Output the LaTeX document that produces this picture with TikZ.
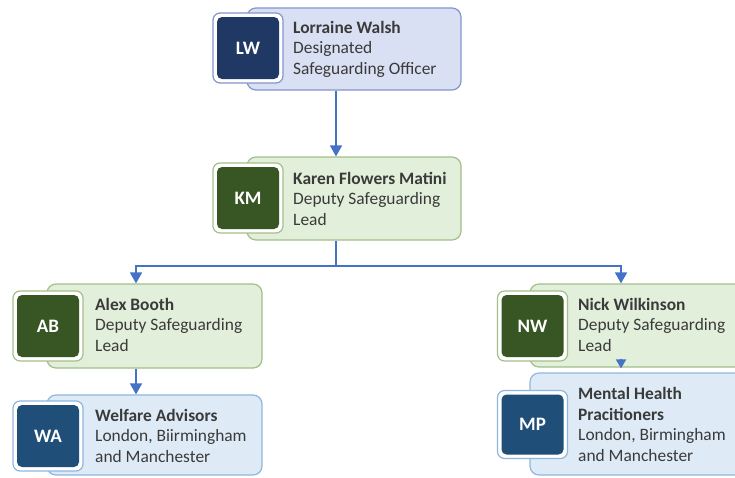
\documentclass[tikz,border=0pt]{standalone}
\usepackage{fontspec}
\setmainfont{Carlito}
\usetikzlibrary{arrows.meta}
\definecolor{lwF}{HTML}{DAE0F3}
\definecolor{lwB}{HTML}{8496CB}
\definecolor{lwD}{HTML}{1F3864}
\definecolor{gF}{HTML}{E2EFDA}
\definecolor{gB}{HTML}{A3BF8A}
\definecolor{gD}{HTML}{375623}
\definecolor{bF}{HTML}{DEEBF7}
\definecolor{bB}{HTML}{8FB7DE}
\definecolor{bD}{HTML}{1F4E79}
\definecolor{arr}{HTML}{4472C4}
\definecolor{txtc}{HTML}{3A3A3A}
\tikzset{
  card/.style={draw, rounded corners=9pt, line width=1.2pt, inner sep=0pt},
  ring/.style={draw, fill=white, rounded corners=7pt, line width=1.2pt, minimum width=70pt, minimum height=70pt, inner sep=0pt},
  badge/.style={rounded corners=5pt, minimum width=62pt, minimum height=62pt, inner sep=0pt, text=white, font=\fontsize{19}{22}\selectfont\bfseries},
  info/.style={anchor=base west, align=left, inner sep=0pt, text=txtc, font=\fontsize{17.4}{20.5}\selectfont},
  link/.style={draw=arr, line width=1.7pt, -{Triangle[width=12pt,length=11pt]}}
}
\begin{document}
\begin{tikzpicture}[x=1pt,y=-1pt]
\clip (0,0) rectangle (735,477);
\fill[white] (0,0) rectangle (735,477);
% cards
\node[card, fill=lwF, draw=lwB, minimum width=214pt, minimum height=82pt] (lw) at (354,49) {};
\node[card, fill=gF, draw=gB, minimum width=214pt, minimum height=83pt] (km) at (354,198.5) {};
\node[card, fill=gF, draw=gB, minimum width=215pt, minimum height=84pt] (ab) at (154.5,326) {};
\node[card, fill=bF, draw=bB, minimum width=215pt, minimum height=80pt] (wa) at (154.5,435) {};
\node[card, fill=gF, draw=gB, minimum width=215pt, minimum height=83pt] (nw) at (637.5,325.5) {};
\node[card, fill=bF, draw=bB, minimum width=215pt, minimum height=102pt] (mp) at (637.5,424) {};
% icons
\node[ring, draw=lwB] (lwr) at (248,48) {};
\node[badge, fill=lwD] (lwi) at (lwr) {LW};
\node[ring, draw=gB] (kmr) at (248,198) {};
\node[badge, fill=gD] (kmi) at (kmr) {KM};
\node[ring, draw=gB] (abr) at (48,326) {};
\node[badge, fill=gD] (abi) at (abr) {AB};
\node[ring, draw=bB] (war) at (48,436) {};
\node[badge, fill=bD] (wai) at (war) {WA};
\node[ring, draw=gB] (nwr) at (532.5,326) {};
\node[badge, fill=gD] (nwi) at (nwr) {NW};
\node[ring, draw=bB, minimum height=68pt] (mpr) at (532.5,424.5) {};
\node[badge, fill=bD, minimum height=60pt] (mpi) at (mpr) {MP};
% texts (anchored at the baseline of the last line)
\node[info] (lwt) at (293,74) {\textbf{Lorraine Walsh}\\Designated\\Safeguarding Officer};
\node[info] (kmt) at (293,225) {\textbf{Karen Flowers Matini}\\Deputy Safeguarding\\Lead};
\node[info] (abt) at (95,351) {\textbf{Alex Booth}\\Deputy Safeguarding\\Lead};
\node[info] (wat) at (95,462) {\textbf{Welfare Advisors}\\London, Biirmingham\\and Manchester};
\node[info] (nwt) at (578,351) {\textbf{Nick Wilkinson}\\Deputy Safeguarding\\Lead};
\node[info] (mpt) at (578,461) {\textbf{Mental Health}\\\textbf{Pracitioners}\\London, Birmingham\\and Manchester};
% connectors
\coordinate (spine) at (336,0);
\coordinate (lx) at (136,0);
\coordinate (rx) at (621,0);
\coordinate (bus) at (0,266);
\draw[link] (lw.south -| spine) -- (km.north -| spine);
\draw[link] (km.south -| spine) -- (bus -| spine) -| (ab.north -| lx);
\draw[link] (bus -| spine) -| (nw.north -| rx);
\draw[link] (ab.south -| lx) -- (wa.north -| lx);
\draw[link, -{Triangle[width=10pt,length=9pt]}, shorten >=4pt] (nw.south -| rx) ++(0,-9) -- (mp.north -| rx);
\end{tikzpicture}
\end{document}
